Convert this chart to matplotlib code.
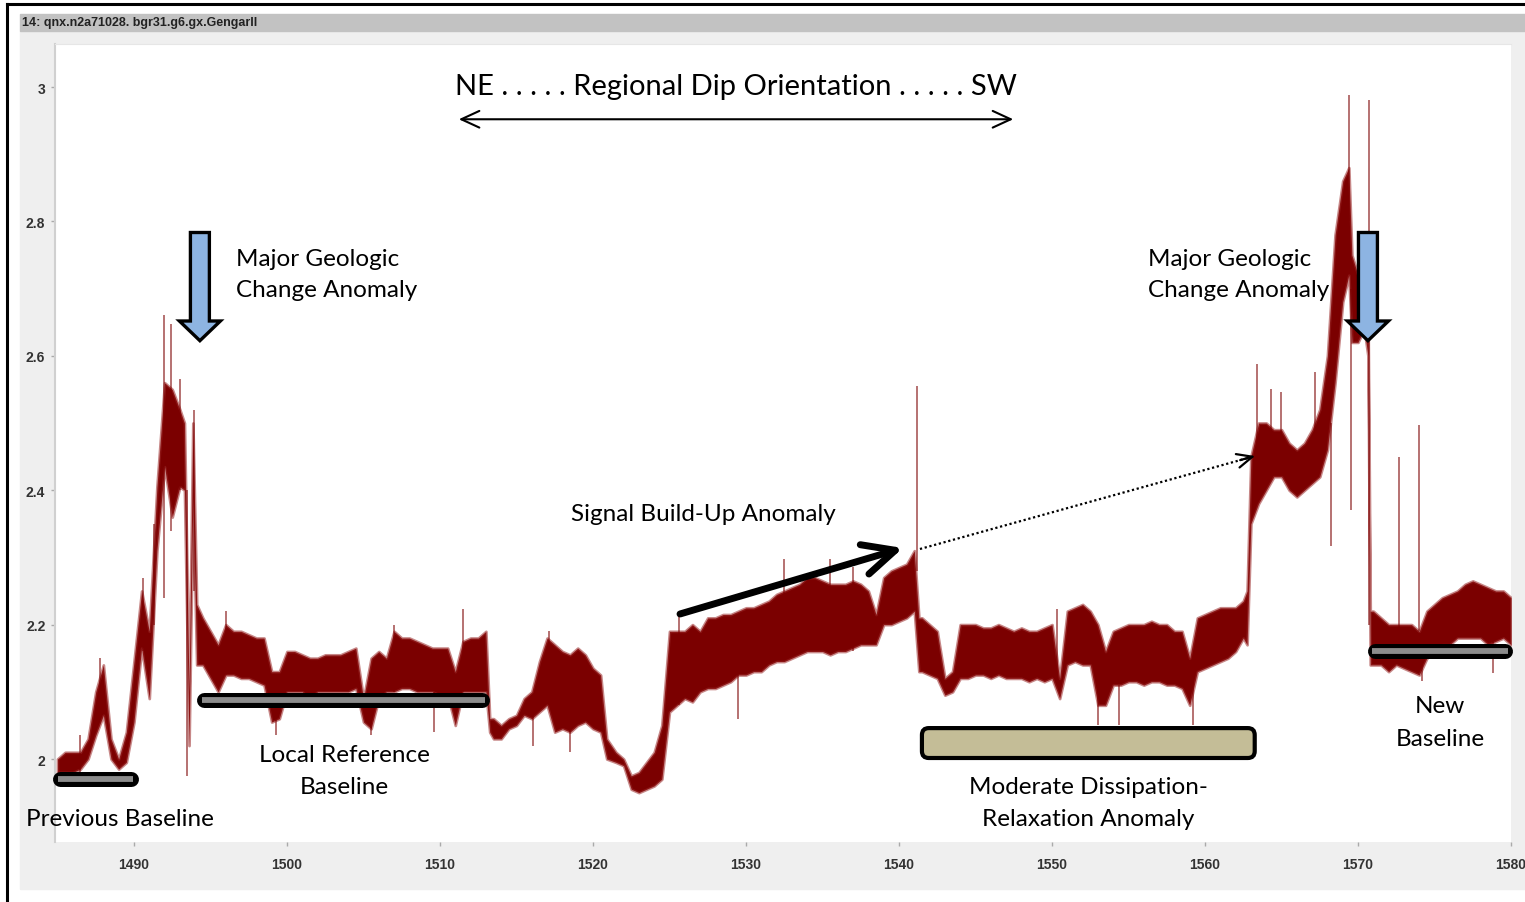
import matplotlib
matplotlib.use("Agg")
import matplotlib.pyplot as plt
from matplotlib.patches import Rectangle, Polygon, FancyBboxPatch
import numpy as np

# log trace: depth and low / high envelope of the noisy signal
depth = [1485.0, 1485.5, 1486.0, 1486.5, 1487.0, 1487.5, 1488.0, 1488.5, 1489.0, 1489.5,
         1490.0, 1490.5, 1491.0, 1491.5, 1492.0, 1492.5, 1493.0, 1493.3, 1493.6, 1493.85,
         1494.1, 1494.5, 1495.0, 1495.5, 1496.0, 1496.5, 1497.0, 1497.5, 1498.0, 1498.5,
         1499.0, 1499.5, 1500.0, 1500.5, 1501.0, 1501.5, 1502.0, 1502.5, 1503.0, 1503.5,
         1504.0, 1504.5, 1505.0, 1505.5, 1506.0, 1506.5, 1507.0, 1507.5, 1508.0, 1508.5,
         1509.0, 1509.5, 1510.0, 1510.5, 1511.0, 1511.5, 1512.0, 1512.5, 1513.0, 1513.25,
         1513.5, 1514.0, 1514.5, 1515.0, 1515.5, 1516.0, 1516.5, 1517.0, 1517.5, 1518.0,
         1518.5, 1519.0, 1519.5, 1520.0, 1520.5, 1520.9, 1521.5, 1522.0, 1522.5, 1523.0,
         1523.5, 1524.0, 1524.5, 1525.0, 1525.5, 1526.0, 1526.5, 1527.0, 1527.5, 1528.0,
         1528.5, 1529.0, 1529.5, 1530.0, 1530.5, 1531.0, 1531.5, 1532.0, 1532.5, 1533.0,
         1533.5, 1534.0, 1534.5, 1535.0, 1535.5, 1536.0, 1536.5, 1537.0, 1537.5, 1538.0,
         1538.5, 1539.0, 1539.5, 1540.0, 1540.5, 1541.0, 1541.3, 1541.5, 1542.0, 1542.5,
         1543.0, 1543.5, 1544.0, 1544.5, 1545.0, 1545.5, 1546.0, 1546.5, 1547.0, 1547.5,
         1548.0, 1548.5, 1549.0, 1549.5, 1550.0, 1550.5, 1551.0, 1551.5, 1552.0, 1552.5,
         1553.0, 1553.5, 1554.0, 1554.5, 1555.0, 1555.5, 1556.0, 1556.5, 1557.0, 1557.5,
         1558.0, 1558.5, 1559.0, 1559.5, 1560.0, 1560.5, 1561.0, 1561.5, 1562.0, 1562.5,
         1562.75, 1563.0, 1563.5, 1564.0, 1564.5, 1565.0, 1565.5, 1566.0, 1566.5, 1567.0,
         1567.5, 1568.0, 1568.5, 1569.0, 1569.4, 1569.6, 1570.0, 1570.4, 1570.65, 1570.8,
         1571.0, 1571.5, 1572.0, 1572.5, 1573.0, 1573.5, 1574.0, 1574.5, 1575.0, 1575.5,
         1576.0, 1576.5, 1577.0, 1577.5, 1578.0, 1578.5, 1579.0, 1579.5, 1580.0]
sig_lo = [1.98, 1.98, 1.98, 1.985, 2.00, 2.035, 2.065, 2.00, 1.985, 1.995,
          2.055, 2.165, 2.09, 2.31, 2.435, 2.36, 2.405, 2.40, 2.02, 2.39,
          2.14, 2.14, 2.12, 2.10, 2.125, 2.125, 2.12, 2.12, 2.115, 2.11,
          2.055, 2.06, 2.10, 2.10, 2.10, 2.09, 2.10, 2.10, 2.10, 2.10,
          2.10, 2.105, 2.055, 2.045, 2.09, 2.10, 2.10, 2.105, 2.105, 2.10,
          2.10, 2.10, 2.095, 2.095, 2.05, 2.10, 2.10, 2.10, 2.10, 2.04,
          2.03, 2.03, 2.045, 2.05, 2.065, 2.06, 2.07, 2.08, 2.04, 2.045,
          2.04, 2.05, 2.055, 2.045, 2.04, 2.00, 1.995, 1.99, 1.955, 1.95,
          1.955, 1.96, 1.97, 2.07, 2.08, 2.09, 2.085, 2.10, 2.105, 2.105,
          2.11, 2.115, 2.125, 2.125, 2.13, 2.13, 2.14, 2.145, 2.145, 2.15,
          2.155, 2.16, 2.16, 2.16, 2.155, 2.16, 2.16, 2.165, 2.17, 2.17,
          2.17, 2.20, 2.20, 2.205, 2.21, 2.22, 2.13, 2.13, 2.125, 2.12,
          2.095, 2.10, 2.12, 2.12, 2.125, 2.125, 2.12, 2.125, 2.12, 2.12,
          2.12, 2.115, 2.12, 2.115, 2.12, 2.09, 2.14, 2.145, 2.14, 2.14,
          2.08, 2.08, 2.11, 2.11, 2.115, 2.115, 2.11, 2.115, 2.115, 2.11,
          2.11, 2.105, 2.08, 2.13, 2.135, 2.14, 2.145, 2.15, 2.16, 2.18,
          2.17, 2.35, 2.38, 2.40, 2.42, 2.42, 2.40, 2.39, 2.40, 2.41,
          2.42, 2.46, 2.56, 2.68, 2.72, 2.62, 2.62, 2.64, 2.60, 2.14,
          2.14, 2.14, 2.13, 2.14, 2.135, 2.13, 2.125, 2.15, 2.16, 2.17,
          2.17, 2.18, 2.18, 2.18, 2.18, 2.17, 2.175, 2.18, 2.17]
sig_hi = [2.00, 2.01, 2.01, 2.01, 2.03, 2.10, 2.14, 2.03, 2.00, 2.04,
          2.145, 2.25, 2.19, 2.405, 2.56, 2.55, 2.52, 2.50, 2.10, 2.50,
          2.23, 2.21, 2.19, 2.17, 2.20, 2.19, 2.19, 2.185, 2.18, 2.18,
          2.13, 2.13, 2.16, 2.16, 2.155, 2.15, 2.15, 2.155, 2.155, 2.155,
          2.16, 2.165, 2.09, 2.15, 2.16, 2.15, 2.19, 2.18, 2.18, 2.175,
          2.17, 2.165, 2.165, 2.165, 2.13, 2.175, 2.18, 2.18, 2.19, 2.06,
          2.06, 2.05, 2.06, 2.065, 2.09, 2.10, 2.145, 2.18, 2.17, 2.16,
          2.155, 2.165, 2.155, 2.135, 2.125, 2.03, 2.01, 2.00, 1.975, 1.98,
          1.995, 2.01, 2.05, 2.19, 2.19, 2.19, 2.20, 2.19, 2.21, 2.21,
          2.215, 2.215, 2.22, 2.225, 2.225, 2.23, 2.235, 2.245, 2.25, 2.255,
          2.26, 2.27, 2.27, 2.265, 2.26, 2.26, 2.26, 2.265, 2.26, 2.25,
          2.215, 2.27, 2.28, 2.285, 2.29, 2.31, 2.21, 2.21, 2.20, 2.19,
          2.12, 2.13, 2.20, 2.20, 2.20, 2.195, 2.195, 2.20, 2.195, 2.19,
          2.195, 2.19, 2.19, 2.195, 2.20, 2.12, 2.22, 2.225, 2.23, 2.22,
          2.20, 2.16, 2.19, 2.195, 2.20, 2.20, 2.20, 2.205, 2.20, 2.20,
          2.19, 2.19, 2.15, 2.21, 2.215, 2.22, 2.225, 2.225, 2.225, 2.235,
          2.25, 2.45, 2.50, 2.50, 2.49, 2.49, 2.47, 2.46, 2.47, 2.49,
          2.52, 2.60, 2.78, 2.86, 2.88, 2.75, 2.72, 2.70, 2.68, 2.22,
          2.22, 2.21, 2.20, 2.20, 2.20, 2.20, 2.19, 2.22, 2.23, 2.24,
          2.245, 2.25, 2.26, 2.265, 2.26, 2.255, 2.25, 2.25, 2.24]

# isolated spikes: depth, start value, end value
spike_x = [1486.5, 1487.8, 1490.6, 1491.3, 1491.95, 1492.4, 1493.0, 1493.45, 1493.9,
           1496.0, 1499.3, 1505.5, 1507.0, 1509.6, 1511.5, 1516.1, 1517.1, 1518.5,
           1525.6, 1529.5, 1532.5, 1535.5, 1537.0, 1541.15, 1550.3, 1553.0, 1554.4,
           1559.2, 1563.4, 1564.3, 1565.0, 1567.2, 1568.25, 1569.4, 1569.55, 1570.75,
           1572.65, 1574.0, 1574.2, 1578.8]
spike_from = [1.98, 2.07, 2.16, 2.20, 2.24, 2.34, 2.40, 1.975, 2.25,
              2.125, 2.035, 2.035, 2.10, 2.04, 2.10, 2.02, 2.08, 2.01,
              2.08, 2.06, 2.15, 2.16, 2.16, 2.28, 2.12, 2.05, 2.05,
              2.05, 2.45, 2.45, 2.45, 2.45, 2.317, 2.80, 2.37, 2.20,
              2.18, 2.19, 2.116, 2.128]
spike_to = [2.035, 2.15, 2.27, 2.35, 2.66, 2.647, 2.565, 2.40, 2.52,
            2.22, 2.12, 2.10, 2.20, 2.10, 2.223, 2.09, 2.19, 2.06,
            2.213, 2.13, 2.298, 2.298, 2.285, 2.555, 2.223, 2.12, 2.11,
            2.14, 2.588, 2.55, 2.546, 2.576, 2.50, 2.988, 2.70, 2.98,
            2.45, 2.497, 2.15, 2.20]

x_ticks = [1490, 1500, 1510, 1520, 1530, 1540, 1550, 1560, 1570, 1580]
y_ticks = [2, 2.2, 2.4, 2.6, 2.8, 3]
y_tick_labels = ["2", "2.2", "2.4", "2.6", "2.8", "3"]

header = "14: qnx.n2a71028. bgr31.g6.gx.Gengarll"
TRACE = "#7b0000"
FONT = "Lato"

W, H = 1525, 903
fig = plt.figure(figsize=(W / 100, H / 100), dpi=100)

# window chrome: light panel, grey header bar, black frame
fig.patches.append(Rectangle((20 / W, 1 - 890 / H), 1 - 20 / W, (890 - 32) / H,
                             transform=fig.transFigure, color="#efefef", zorder=-2))
fig.patches.append(Rectangle((20 / W, 1 - 32 / H), 1 - 20 / W, 17 / H,
                             transform=fig.transFigure, color="#c2c2c2", zorder=-2))
fig.lines.append(plt.Line2D([7 / W, 7 / W], [0, 1 - 5 / H], transform=fig.transFigure,
                            color="black", lw=2.2, zorder=-1))
fig.lines.append(plt.Line2D([7 / W, 1], [1 - 5 / H, 1 - 5 / H], transform=fig.transFigure,
                            color="black", lw=2.2, zorder=-1))
fig.text(22 / W, 1 - 23 / H, header, fontsize=9, fontweight="bold",
         family="Liberation Sans", color="#222222", va="center")

ax = fig.add_axes([55 / W, 1 - 843 / H, (1511 - 55) / W, (843 - 45) / H])
ax.set_zorder(1)
ax.set_facecolor("white")
ax.set_xlim(1484.84, 1580)
ax.set_ylim(1.8765, 3.064)
for side in ["right", "bottom"]:
    ax.spines[side].set_visible(False)
ax.spines["left"].set_color("#d0d0d0")
ax.spines["left"].set_linewidth(1.5)
ax.spines["top"].set_color("#e6e6e6")
ax.set_xticks(x_ticks)
ax.set_yticks(y_ticks, y_tick_labels)
ax.tick_params(colors="#aaaaaa", length=3, width=1, labelcolor="#333333", labelsize=10)
ax.tick_params(axis="x", pad=8)
ax.tick_params(axis="y", pad=4)
for lab in ax.get_xticklabels() + ax.get_yticklabels():
    lab.set_fontweight("bold")
    lab.set_family("Liberation Sans")

# signal trace
ax.fill_between(depth, sig_lo, sig_hi, color=TRACE, lw=2.0, edgecolor=(0.6, 0.15, 0.15, 0.55),
                zorder=2)
ax.vlines(spike_x, spike_from, spike_to, color=TRACE, lw=1.3, alpha=0.6, zorder=2)

# direction header
ax.text(1529.35, 3.0015, "NE . . . . . Regional Dip Orientation . . . . . SW",
        ha="center", va="center", fontsize=21, family=FONT, zorder=5)
ax.annotate("", xy=(1547.65, 2.952), xytext=(1511.05, 2.952),
            arrowprops=dict(arrowstyle="<->,head_length=1.3,head_width=0.6",
                            mutation_scale=10, lw=1.5, color="black"))


def blue_arrow(cx):
    bw, hw = 0.62, 1.34
    top, neck, tip = 2.7835, 2.6518, 2.6225
    pts = [(cx - bw, top), (cx + bw, top), (cx + bw, neck), (cx + hw, neck),
           (cx, tip), (cx - hw, neck), (cx - bw, neck)]
    ax.add_patch(Polygon(pts, closed=True, facecolor="#8db4e2", edgecolor="black",
                         lw=2.4, joinstyle="miter", zorder=6))


blue_arrow(1494.31)
blue_arrow(1570.65)

body = dict(fontsize=17.5, family=FONT, zorder=7, clip_on=False)
ax.text(1496.67, 2.7455, "Major Geologic", va="center", **body)
ax.text(1496.67, 2.698, "Change Anomaly", va="center", **body)
ax.text(1556.27, 2.7455, "Major Geologic", va="center", **body)
ax.text(1556.27, 2.698, "Change Anomaly", va="center", **body)
ax.text(1527.19, 2.3646, "Signal Build-Up Anomaly", ha="center", va="center", **body)

# build-up arrow and dotted continuation
ax.annotate("", xy=(1540.26, 2.314), xytext=(1525.69, 2.2158),
            arrowprops=dict(arrowstyle="->,head_length=2.3,head_width=1.1",
                            mutation_scale=10, lw=5, color="black",
                            shrinkA=0, shrinkB=0), zorder=7)
ax.plot([1541.37, 1563.1], [2.3125, 2.4498], color="black", lw=1.6, ls=(0, (1, 1.2)),
        zorder=7)
ax.annotate("", xy=(1563.27, 2.4509), xytext=(1562.3, 2.4448),
            arrowprops=dict(arrowstyle="->,head_length=1.1,head_width=0.5",
                            mutation_scale=10, lw=1.6, color="black",
                            shrinkA=0, shrinkB=0), zorder=7)


def baseline_bar(x0, x1, y):
    ax.plot([x0, x1], [y, y], color="black", lw=10.8, solid_capstyle="round", zorder=6,
            clip_on=False)
    ax.plot([x0 - 0.15, x1 + 0.15], [y, y], color="#8c8c8c", lw=4.2,
            solid_capstyle="butt", zorder=6, clip_on=False)


baseline_bar(1485.16, 1489.8, 1.9702)
baseline_bar(1494.6, 1512.78, 2.0878)
baseline_bar(1571.08, 1579.64, 2.1607)

ax.add_patch(FancyBboxPatch((1541.5, 2.0015), 21.75, 0.0445,
                            boxstyle="round,pad=0,rounding_size=0.45",
                            mutation_aspect=15.3 / 672, facecolor="#c4bd97",
                            edgecolor="black", lw=3, zorder=6, clip_on=False))

ax.text(1482.94, 1.9122, "Previous Baseline", va="center", **body)
ax.text(1503.73, 2.0074, "Local Reference", ha="center", va="center", **body)
ax.text(1503.73, 1.9598, "Baseline", ha="center", va="center", **body)
ax.text(1552.35, 1.9598, "Moderate Dissipation-", ha="center", va="center", **body)
ax.text(1552.35, 1.9122, "Relaxation Anomaly", ha="center", va="center", **body)
ax.text(1575.36, 2.0789, "New", ha="center", va="center", **body)
ax.text(1575.36, 2.03125, "Baseline", ha="center", va="center", **body)

fig.savefig("out.png", dpi=100)
